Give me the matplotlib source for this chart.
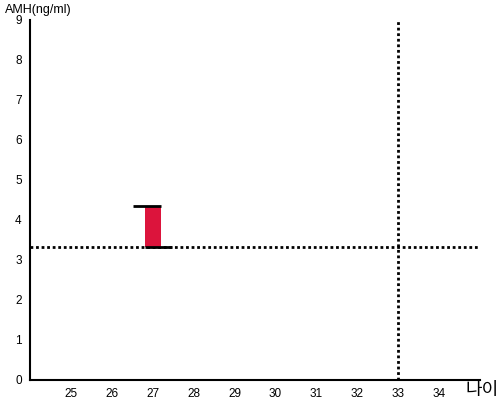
import matplotlib.pyplot as plt

# values
ages = [27]
amh_low = [3.32]
amh_high = [4.34]
ref_amh = 3.32
ref_age = 33
x_ticks = [25, 26, 27, 28, 29, 30, 31, 32, 33, 34]
y_ticks = [0, 1, 2, 3, 4, 5, 6, 7, 8, 9]

plt.rcParams['font.family'] = ['Liberation Sans', 'Noto Sans CJK KR', 'DejaVu Sans']

fig = plt.figure(figsize=(5, 4), dpi=100)
ax = fig.add_axes([0.06, 0.05, 0.9, 0.9])

for a, lo, hi in zip(ages, amh_low, amh_high):
    ax.bar(a, hi - lo, bottom=lo, width=0.4, color='#dc143c', zorder=2)
    ax.hlines(hi, a - 0.48, a + 0.2, color='black', lw=2, zorder=3)
    ax.hlines(lo, a - 0.2, a + 0.47, color='black', lw=2, zorder=3)

ax.axhline(ref_amh, color='black', ls=(0, (1, 1)), lw=2, zorder=1)
ax.axvline(ref_age, color='black', ls=(0, (1, 1)), lw=2, zorder=1)

ax.set_xlim(24, 35)
ax.set_ylim(0, 9)
ax.set_xticks(x_ticks)
ax.set_yticks(y_ticks)
ax.tick_params(length=0, labelsize=8.5, pad=6)
for s in ['top', 'right']:
    ax.spines[s].set_visible(False)
ax.spines['left'].set_linewidth(1.5)
ax.spines['bottom'].set_linewidth(1.5)

fig.text(0.01, 0.975, 'AMH(ng/ml)', fontsize=9, va='center', ha='left')
fig.text(0.998, 0.003, '나이', fontsize=13, va='bottom', ha='right',
         family=['Noto Sans CJK KR', 'DejaVu Sans'], fontweight='light')

fig.savefig('out.png', dpi=100)
